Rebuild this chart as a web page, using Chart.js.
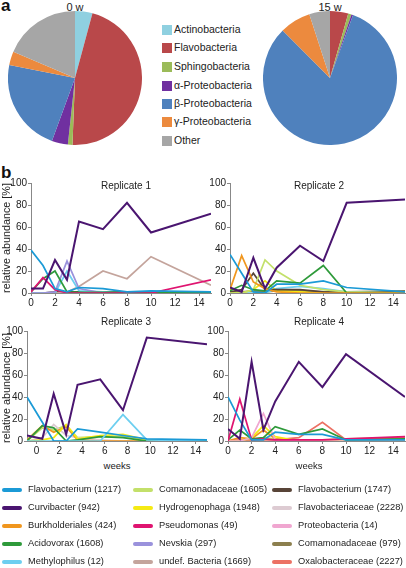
<!DOCTYPE html>
<html>
<head>
<meta charset="utf-8">
<script src="https://cdn.jsdelivr.net/npm/chart.js@4.4.1/dist/chart.umd.min.js"></script>
<style>
  body { margin: 0; background: #fff; font-family: "Liberation Sans", Arial, sans-serif; color: #222; }
  #wrap { position: relative; width: 406px; height: 568px; overflow: hidden; }
  canvas, .t { position: absolute; }
  .t { white-space: nowrap; }
  .panel { font-weight: bold; font-size: 17px; color: #111; }
  .center { transform: translate(-50%, -50%); }
  .ytitle { font-size: 10.8px; transform: translate(-50%, -50%) rotate(-90deg); }
  .pl { font-size: 10.5px; }
  .box { position: absolute; width: 10px; height: 10px; }
  .ll { font-size: 9.3px; }
  .sw { position: absolute; width: 20px; height: 4px; border-radius: 2px; }
</style>
</head>
<body>
<div id="wrap">
  <div class="t panel" style="left:1px;top:-4px">a</div>
  <div class="t panel" style="left:1px;top:163px">b</div>
  <div class="t center" style="left:75px;top:7px;font-size:11px">0 w</div>
  <div class="t center" style="left:330px;top:7px;font-size:11px">15 w</div>
  <canvas id="pie0" width="134" height="134" style="left:8px;top:11px"></canvas>
  <canvas id="pie15" width="134" height="134" style="left:263px;top:11px"></canvas>
  <div id="pieLegend"></div>

  <canvas id="rep1" width="213" height="140" style="left:0px;top:170px"></canvas>
  <canvas id="rep2" width="207" height="140" style="left:199px;top:170px"></canvas>
  <canvas id="rep3" width="213" height="140" style="left:0px;top:318px"></canvas>
  <canvas id="rep4" width="207" height="140" style="left:199px;top:318px"></canvas>
  <div class="t center" style="left:126px;top:185px;font-size:10px">Replicate 1</div>
  <div class="t center" style="left:319px;top:185px;font-size:10px">Replicate 2</div>
  <div class="t center" style="left:126px;top:321px;font-size:10px">Replicate 3</div>
  <div class="t center" style="left:319px;top:321px;font-size:10px">Replicate 4</div>
  <div class="t ytitle" style="left:6px;top:238px">relative abundance [%]</div>
  <div class="t ytitle" style="left:6px;top:388px">relative abundance [%]</div>
  <div class="t center" style="left:117px;top:465px;font-size:9.5px">weeks</div>
  <div class="t center" style="left:309px;top:465px;font-size:9.5px">weeks</div>
  <div id="lineLegend"></div>
</div>
<script>
  // Pie data (% of reads)
  const pieClasses = ["Actinobacteria", "Flavobacteria", "Sphingobacteria", "α-Proteobacteria",
    "β-Proteobacteria", "γ-Proteobacteria", "Other"];
  const pieColors = ["#8fd0e0", "#b9484a", "#9bbb59", "#7030a0", "#4f81bd", "#ec8a3e", "#a6a6a6"];
  const pie0w = [4.2, 46.4, 1.1, 3.9, 22.5, 3.3, 18.6];
  const pie15w = [0, 4.4, 0.8, 0.4, 82, 7.5, 5];

  // Line data
  const weeks = [0, 1, 2, 3, 4, 6, 8, 10, 15];
  const weeksRep3 = [-0.85, 0.5, 1.5, 2.6, 3.6, 5.6, 7.6, 9.7, 15];
  const weekTicks = [0, 2, 4, 6, 8, 10, 12, 14];
  const abundanceTicks = [0, 20, 40, 60, 80, 100];

  const taxa = ["Flavobacterium (1217)", "Curvibacter (942)", "Burkholderiales (424)", "Acidovorax (1608)",
    "Methylophilus (12)", "Comamonadaceae (1605)", "Hydrogenophaga (1948)", "Pseudomonas (49)",
    "Nevskia (297)", "undef. Bacteria (1669)", "Flavobacterium (1747)", "Flavobacteriaceae (2228)",
    "Proteobacteria (14)", "Comamonadaceae (979)", "Oxalobacteraceae (2227)"];
  const taxaColors = ["#1b9ad6", "#4a1570", "#f0961e", "#2e9a3a", "#6dcff0", "#c3e06a", "#f5ea14",
    "#df1470", "#9a92dc", "#c4a49c", "#584438", "#ddcbd2", "#f0a6d0", "#8c7f4e", "#ec7164"];

  // Replicate 1
  const rep1Curvibacter = [4, 4, 30, 12, 65, 58, 82, 55, 72];
  const rep1Flavo1217 = [39, 25, 4, 1, 5, 4, 1, 2, 1];
  const rep1Pseudomonas = [1, 14, 3, 0, 0, 0, 0, 0, 12];
  const rep1Acidovorax = [1, 13, 20, 1, 0.5, 0.5, 0.5, 0.5, 0.5];
  const rep1Nevskia = [0, 0, 1, 29, 4, 0, 0, 0, 0];
  const rep1Methylophilus = [0, 0, 0, 20, 2, 1, 0, 0, 0];
  const rep1Undef = [0, 0, 0, 1, 6, 20, 13, 33, 7];
  const rep1Flavo1747 = [0, 0, 1, 1, 1, 1, 1, 1, 1];

  // Replicate 2
  const rep2Curvibacter = [5, 1, 32, 4, 23, 43, 29, 82, 85];
  const rep2Flavo1217 = [35, 18, 1, 0, 8, 8, 11, 5, 1];
  const rep2Burkholderiales = [3, 34, 10, 4, 1, 0, 0, 0, 0];
  const rep2Acidovorax = [2, 7, 3, 2, 11, 9, 25, 0, 0];
  const rep2Comam1605 = [0, 0, 3, 30, 20, 7, 3, 1, 0];
  const rep2Flavo1747 = [1, 3, 18, 3, 3, 3, 1, 0, 1];
  const rep2Hydrogenophaga = [0, 0, 3, 11, 2, 1, 0, 0, 0];
  const rep2Methylophilus = [0, 0, 0, 0, 4, 6, 4, 1, 0];
  const rep2Comam979 = [1, 1, 2, 1, 2, 2, 1, 1, 2];

  // Replicate 3
  const rep3Curvibacter = [5, 2, 43, 6, 51, 56, 28, 94, 88];
  const rep3Flavo1217 = [40, 17, 0, 0, 11, 8, 5, 2, 1];
  const rep3Methylophilus = [0, 0, 0, 0, 0, 0, 24, 1, 0];
  const rep3Acidovorax = [0, 14, 12, 0, 1, 4, 3, 0, 0];
  const rep3Hydrogenophaga = [0, 1, 3, 15, 2, 5, 6, 1, 0];
  const rep3Burkholderiales = [1, 14, 8, 13, 1, 0, 0, 0, 0];
  const rep3Flavo2228 = [0, 3, 15, 5, 3, 1, 0, 0, 0];
  const rep3Comam1605 = [0, 12, 10, 14, 3, 4, 4, 1, 0];

  // Replicate 4
  const rep4Curvibacter = [11, 2, 72, 10, 36, 72, 49, 79, 40];
  const rep4Flavo1217 = [40, 19, 1, 1, 8, 6, 6, 1, 1];
  const rep4Pseudomonas = [0, 38, 1, 2, 1, 1, 1, 2, 4];
  const rep4Acidovorax = [1, 10, 2, 3, 13, 6, 11, 1, 2];
  const rep4Proteobacteria = [0, 0, 3, 25, 1, 0, 0, 0, 0];
  const rep4Hydrogenophaga = [0, 0, 3, 14, 4, 0, 0, 1, 1];
  const rep4Oxalobacteraceae = [0, 1, 1, 1, 1, 3, 17, 1, 3];
  const rep4Burkholderiales = [0, 3, 2, 10, 2, 0, 0, 0, 0];
  const rep4Comam1605 = [0, 0, 1, 3, 2, 1, 1, 2, 3];

  Chart.defaults.font.family = '"Liberation Sans", Arial, sans-serif';
  Chart.defaults.color = "#222";

  // Pie charts
  function makePie(id, values) {
    new Chart(document.getElementById(id), {
      type: "pie",
      data: { labels: pieClasses, datasets: [{ data: values, backgroundColor: pieColors, borderWidth: 0 }] },
      options: {
        responsive: false, animation: false,
        layout: { padding: 0 },
        plugins: { legend: { display: false }, tooltip: { enabled: false } }
      }
    });
  }
  makePie("pie0", pie0w);
  makePie("pie15", pie15w);

  // Pie legend
  const pieLegend = document.getElementById("pieLegend");
  const pieRowsY = [30, 48, 67, 86, 104, 122, 141];
  pieClasses.forEach((name, i) => {
    const box = document.createElement("div");
    box.className = "box";
    box.style.left = "162px";
    box.style.top = (pieRowsY[i] - 5) + "px";
    box.style.background = pieColors[i];
    pieLegend.appendChild(box);
    const lab = document.createElement("div");
    lab.className = "t pl";
    lab.style.left = "174px";
    lab.style.top = (pieRowsY[i] - 7) + "px";
    lab.textContent = name;
    pieLegend.appendChild(lab);
  });

  // Line charts
  function makeLine(id, xs, series, xmin, xmax, yWidth, padRight) {
    const datasets = series.map(([name, vals]) => ({
      label: name,
      data: vals.map((v, i) => ({ x: xs[i], y: v })),
      borderColor: taxaColors[taxa.indexOf(name)],
      borderWidth: name === "Curvibacter (942)" ? 2 : 1.7,
      pointRadius: 0,
      tension: 0,
      fill: false
    }));
    new Chart(document.getElementById(id), {
      type: "line",
      data: { datasets },
      options: {
        responsive: false, animation: false,
        layout: { padding: { left: 0, right: padRight, top: 13, bottom: 0 } },
        plugins: { legend: { display: false }, tooltip: { enabled: false } },
        scales: {
          x: {
            type: "linear", min: xmin, max: xmax,
            afterBuildTicks: axis => { axis.ticks = weekTicks.map(v => ({ value: v })); },
            afterFit: axis => { axis.height = 17; },
            grid: { drawOnChartArea: false, tickLength: 3, color: "#888" },
            border: { color: "#888" },
            ticks: { font: { size: 10 }, padding: 1, maxRotation: 0 }
          },
          y: {
            min: 0, max: 100,
            afterBuildTicks: axis => { axis.ticks = abundanceTicks.map(v => ({ value: v })); },
            afterFit: axis => { axis.width = yWidth; },
            grid: { drawOnChartArea: false, tickLength: 3, color: "#888" },
            border: { color: "#888" },
            ticks: { font: { size: 10 }, padding: 1 }
          }
        }
      }
    });
  }

  makeLine("rep1", weeks, [
    ["Curvibacter (942)", rep1Curvibacter],
    ["Flavobacterium (1217)", rep1Flavo1217],
    ["Pseudomonas (49)", rep1Pseudomonas],
    ["Acidovorax (1608)", rep1Acidovorax],
    ["Nevskia (297)", rep1Nevskia],
    ["Methylophilus (12)", rep1Methylophilus],
    ["undef. Bacteria (1669)", rep1Undef],
    ["Flavobacterium (1747)", rep1Flavo1747]
  ], 0, 15, 31, 2);

  makeLine("rep2", weeks, [
    ["Curvibacter (942)", rep2Curvibacter],
    ["Flavobacterium (1217)", rep2Flavo1217],
    ["Burkholderiales (424)", rep2Burkholderiales],
    ["Acidovorax (1608)", rep2Acidovorax],
    ["Comamonadaceae (1605)", rep2Comam1605],
    ["Flavobacterium (1747)", rep2Flavo1747],
    ["Hydrogenophaga (1948)", rep2Hydrogenophaga],
    ["Methylophilus (12)", rep2Methylophilus],
    ["Comamonadaceae (979)", rep2Comam979]
  ], 0, 15, 31, 1);

  makeLine("rep3", weeksRep3, [
    ["Curvibacter (942)", rep3Curvibacter],
    ["Flavobacterium (1217)", rep3Flavo1217],
    ["Methylophilus (12)", rep3Methylophilus],
    ["Acidovorax (1608)", rep3Acidovorax],
    ["Hydrogenophaga (1948)", rep3Hydrogenophaga],
    ["Burkholderiales (424)", rep3Burkholderiales],
    ["Flavobacteriaceae (2228)", rep3Flavo2228],
    ["Comamonadaceae (1605)", rep3Comam1605]
  ], -0.85, 15, 27, 6);

  makeLine("rep4", weeks, [
    ["Curvibacter (942)", rep4Curvibacter],
    ["Flavobacterium (1217)", rep4Flavo1217],
    ["Pseudomonas (49)", rep4Pseudomonas],
    ["Acidovorax (1608)", rep4Acidovorax],
    ["Proteobacteria (14)", rep4Proteobacteria],
    ["Hydrogenophaga (1948)", rep4Hydrogenophaga],
    ["Oxalobacteraceae (2227)", rep4Oxalobacteraceae],
    ["Burkholderiales (424)", rep4Burkholderiales],
    ["Comamonadaceae (1605)", rep4Comam1605]
  ], 0, 15, 29, 1);

  // Bottom legend, three columns
  const lineLegend = document.getElementById("lineLegend");
  const colX = [2, 133, 272];
  const rowY = [490, 508, 526, 544, 562];
  taxa.forEach((name, i) => {
    const col = Math.floor(i / 5), row = i % 5;
    const sw = document.createElement("div");
    sw.className = "sw";
    sw.style.left = colX[col] + "px";
    sw.style.top = (rowY[row] - 2) + "px";
    sw.style.background = taxaColors[i];
    lineLegend.appendChild(sw);
    const lab = document.createElement("div");
    lab.className = "t ll";
    lab.style.left = (colX[col] + 26) + "px";
    lab.style.top = (rowY[row] - 6) + "px";
    lab.textContent = name;
    lineLegend.appendChild(lab);
  });
</script>
</body>
</html>
